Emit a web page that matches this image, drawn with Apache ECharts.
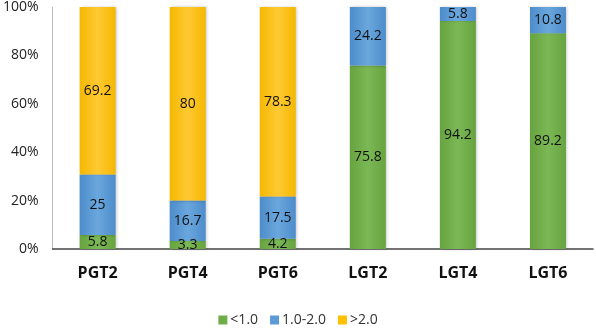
<!DOCTYPE html>
<html><head><meta charset="utf-8">
<script src="https://cdn.jsdelivr.net/npm/echarts@6/dist/echarts.min.js"></script>
<style>html,body{margin:0;padding:0;background:#fff}#c{width:596px;height:329px}</style>
</head><body><div id="c"></div>
<script>
const categories = ['PGT2','PGT4','PGT6','LGT2','LGT4','LGT6'];
const seriesNames = ['<1.0','1.0-2.0','>2.0'];
const low = [5.8, 3.3, 4.2, 75.8, 94.2, 89.2];
const mid = [25, 16.7, 17.5, 24.2, 5.8, 10.8];
const high = [69.2, 80, 78.3, null, null, null];
const yTicks = [0, 20, 40, 60, 80, 100];

const colors = ['#70AD47','#5B9BD5','#FFC000'];
const grads = [
  ['#7bb956','#67a33f'],
  ['#6aa7dd','#4d8ccb'],
  ['#ffc933','#f5b800']
];
function mk(name, data, i){
  return {
    name, type:'bar', stack:'s', data, barWidth:36,
    itemStyle:{
      color:new echarts.graphic.LinearGradient(0,0,1,0,[
        {offset:0,color:grads[i][1]},{offset:0.5,color:grads[i][0]},{offset:1,color:grads[i][1]}]),
      shadowColor:'rgba(0,0,0,0.25)', shadowBlur:3, shadowOffsetX:1
    },
    label:{show:true, position:'inside', color:'#111', fontSize:14, fontFamily:'Open Sans',
      formatter:p=>p.value==null?'':String(p.value)}
  };
}
const chart = echarts.init(document.getElementById('c'));
chart.setOption({
  animation:false,
  color:colors,
  grid:{left:49,right:3,top:7,bottom:80},
  legend:{
    bottom:-3, left:'center', itemWidth:9, itemHeight:9, itemGap:12, icon:'rect',
    textStyle:{fontSize:14, color:'#333', fontFamily:'Open Sans', padding:[0,0,0,-2]},
    data:seriesNames.map((n,i)=>({name:n, itemStyle:{color:colors[i]}}))
  },
  xAxis:{
    type:'category', data:categories,
    axisLine:{lineStyle:{color:'#444', width:1.5}},
    axisTick:{show:false},
    axisLabel:{margin:16, fontSize:16, fontWeight:'bold', color:'#111', fontFamily:'Open Sans'}
  },
  yAxis:{
    type:'value', min:yTicks[0], max:yTicks[yTicks.length-1], interval:20,
    axisLine:{show:true, lineStyle:{color:'#bbb'}},
    splitLine:{show:false},
    axisTick:{show:false},
    axisLabel:{formatter:'{value}%', fontSize:14, color:'#222', margin:14, fontFamily:'Open Sans'}
  },
  series:[mk(seriesNames[0],low,0), mk(seriesNames[1],mid,1), mk(seriesNames[2],high,2)]
});
</script></body></html>
